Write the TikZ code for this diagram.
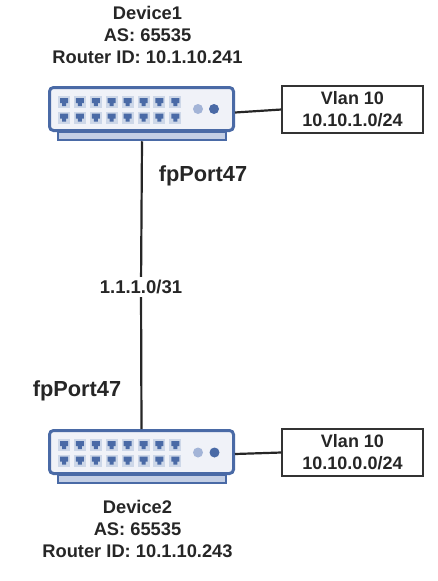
\documentclass[tikz,border=0pt]{standalone}
\usepackage{fontspec}
\setmainfont{Liberation Sans}
\definecolor{swblue}{RGB}{74,106,166}
\definecolor{swface}{RGB}{240,242,248}
\definecolor{swbase}{RGB}{196,207,229}
\definecolor{swled}{RGB}{163,180,215}
\definecolor{swport}{RGB}{205,215,232}
\tikzset{
  body/.style={draw=swblue, fill=swface, line width=3pt, rounded corners=4pt, minimum width=184pt, minimum height=43pt, inner sep=0pt},
  stand/.style={draw=swblue, fill=swbase, line width=2.5pt, minimum width=168pt, minimum height=8pt, inner sep=0pt},
  port/.style={fill=swport, minimum width=12pt, minimum height=12pt, inner sep=0pt},
  link/.style={line width=2.2pt, black!85},
  vlan/.style={draw=black!80, line width=1.2pt, fill=white, minimum width=141pt, minimum height=47pt, align=center, inner sep=0pt, font=\fontsize{18}{22}\selectfont\bfseries\color{black!85}},
  label/.style={align=center, inner sep=0pt, font=\fontsize{18.3}{22}\selectfont\bfseries\color{black!85}},
  portname/.style={inner sep=0pt, font=\fontsize{21.8}{24}\selectfont\bfseries\color{black!85}}
}
\begin{document}
\begin{tikzpicture}[x=1pt, y=-1pt]
\useasboundingbox (0,0) rectangle (437,581);
% top switch
\node[stand](stand1) at(142,136){};
\node[body](sw1) at(141.5,109){};
\foreach \i in {0,...,7}{
  \node[port](pa\i) at(64+15.9*\i,102){};
  \node[port](pb\i) at(64+15.9*\i,117.5){};
  \fill[swblue] (60+15.9*\i,98)--(68+15.9*\i,98)--(68+15.9*\i,103)--(66+15.9*\i,103)--(66+15.9*\i,106)--(62+15.9*\i,106)--(62+15.9*\i,103)--(60+15.9*\i,103)--cycle;
  \fill[swblue] (60+15.9*\i,113.5)--(68+15.9*\i,113.5)--(68+15.9*\i,118.5)--(66+15.9*\i,118.5)--(66+15.9*\i,121.5)--(62+15.9*\i,121.5)--(62+15.9*\i,118.5)--(60+15.9*\i,118.5)--cycle;
}
\fill[swled] (198,109) circle (5);
\fill[swblue] (214,109) circle (5);
% bottom switch
\node[stand](stand2) at(142,479){};
\node[body](sw2) at(141.5,452){};
\foreach \i in {0,...,7}{
  \node[port](qa\i) at(64+15.9*\i,445){};
  \node[port](qb\i) at(64+15.9*\i,460.5){};
  \fill[swblue] (60+15.9*\i,441)--(68+15.9*\i,441)--(68+15.9*\i,446)--(66+15.9*\i,446)--(66+15.9*\i,449)--(62+15.9*\i,449)--(62+15.9*\i,446)--(60+15.9*\i,446)--cycle;
  \fill[swblue] (60+15.9*\i,456.5)--(68+15.9*\i,456.5)--(68+15.9*\i,461.5)--(66+15.9*\i,461.5)--(66+15.9*\i,464.5)--(62+15.9*\i,464.5)--(62+15.9*\i,461.5)--(60+15.9*\i,461.5)--cycle;
}
\fill[swled] (198,452.5) circle (5);
\fill[swblue] (214.5,452.5) circle (5);
% vlan boxes
\node[vlan](v1) at(352.5,109.5){Vlan 10\\10.10.1.0/24};
\node[vlan](v2) at(352.5,452.5){Vlan 10\\10.10.0.0/24};
\draw[link]([yshift=-3.5pt]sw1.east)--(v1.west);
\draw[link]([yshift=-2pt]sw2.east)--(v2.west);
% link between the switches
\node[inner ysep=3pt, inner xsep=0pt, fill=white, font=\fontsize{18.5}{20}\selectfont\bfseries\color{black!85}](net) at(141,287){1.1.1.0/31};
\draw[link](stand1.south)--(net);
\draw[link](net)--(sw2.north);
\node[portname](p1) at(203,176){fpPort47};
\node[portname](p2) at(77,391){fpPort47};
% device labels
\node[label](d1) at(147.5,35){Device1\\AS: 65535\\Router ID: 10.1.10.241};
\node[label](d2) at(137.5,529){Device2\\AS: 65535\\Router ID: 10.1.10.243};
\end{tikzpicture}
\end{document}
